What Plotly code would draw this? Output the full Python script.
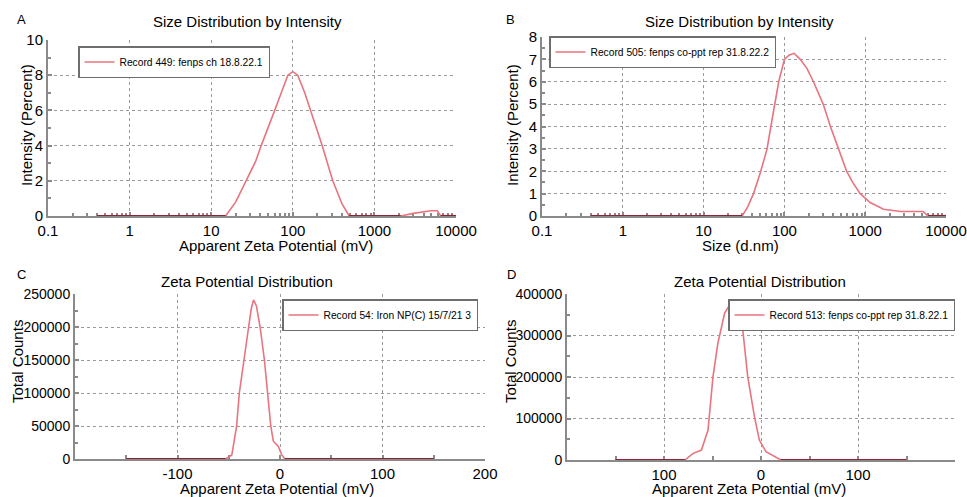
import plotly.graph_objects as go

W, H = 967, 497

# ---------------- data ----------------
A_size = [0.4, 1, 5, 10, 15, 20, 27, 35, 41, 50, 60, 75, 87, 100, 115, 140, 166, 200, 229, 270, 309, 400, 490, 700, 1000, 2100, 3000, 4900, 5900, 6500, 10000]
A_intensity = [0, 0, 0, 0, 0, 0.8, 2.0, 3.1, 4.0, 5.1, 6.0, 7.2, 8.0, 8.2, 8.0, 7.0, 6.0, 4.8, 4.0, 2.9, 2.0, 0.7, 0, 0, 0, 0, 0.15, 0.3, 0.3, 0, 0]
A_name = "Record 449: fenps ch 18.8.22.1"

B_size = [0.4, 1, 10, 20, 30, 35, 41.5, 51, 61, 68, 76, 85, 100, 115, 132, 157, 190, 229, 302, 371, 468, 589, 700, 867, 1150, 1690, 2750, 4000, 5200, 6000, 10000]
B_intensity = [0, 0, 0, 0, 0, 0.4, 1.0, 2.0, 3.0, 4.0, 5.0, 6.0, 7.0, 7.2, 7.27, 7.0, 6.6, 6.0, 5.0, 4.0, 3.0, 2.0, 1.5, 1.0, 0.6, 0.3, 0.2, 0.2, 0.2, 0, 0]
B_name = "Record 505: fenps co-ppt rep 31.8.22.2"

C_zeta = [-150, -53, -47, -42.3, -39.7, -34.8, -30.6, -28, -25.8, -23, -19.4, -15.2, -11.9, -9.0, -6.5, -1.6, 1.6, 4.8, 150]
C_counts = [0, 0, 6000, 50000, 100000, 150000, 200000, 228000, 241000, 232000, 200000, 150000, 100000, 50000, 27000, 19000, 6600, 0, 0]
C_name = "Record 54: Iron NP(C) 15/7/21 3"

D_zeta = [-150, -78.5, -70, -61.4, -54.6, -49.5, -44.4, -37.5, -31.7, -25.6, -18.8, -13.7, -6.8, -1.7, 5.1, 20.5, 150]
D_counts = [0, 0, 16000, 24000, 72000, 201000, 282000, 354000, 376000, 362000, 314000, 201000, 105000, 48000, 20000, 0, 0]
D_name = "Record 513: fenps co-ppt rep 31.8.22.1"

log_tickvals = [0.1, 1, 10, 100, 1000, 10000]
log_ticktext = ["0.1", "1", "10", "100", "1000", "10000"]
zeta_tickvals = [-100, 0, 100, 200]
C_zeta_ticktext = ["-100", "0", "100", "200"]
D_zeta_ticktext = ["100", "0", "100", "200"]

panel_titles = ["Size Distribution by Intensity", "Size Distribution by Intensity",
                "Zeta Potential Distribution", "Zeta Potential Distribution"]
panel_letters = ["A", "B", "C", "D"]
x_titles = ["Apparent Zeta Potential (mV)", "Size (d.nm)",
            "Apparent Zeta Potential (mV)", "Apparent Zeta Potential (mV)"]
y_titles = ["Intensity (Percent)", "Intensity (Percent)", "Total Counts", "Total Counts"]

# ---------------- style ----------------
FONT = "Liberation Sans, Arial, sans-serif"
PINK = "#e8747f"
DARK = "#8e2236"
AXIS = "#8a8a8a"
GRID = "#9a9a9a"

def px_x(p):
    return p / W

def px_y(p):
    return 1 - p / H

fig = go.Figure()

series = [
    (A_size, A_intensity, A_name, "x", "y", "legend"),
    (B_size, B_intensity, B_name, "x2", "y2", "legend2"),
    (C_zeta, C_counts, C_name, "x3", "y3", "legend3"),
    (D_zeta, D_counts, D_name, "x4", "y4", "legend4"),
]
for xs, ys, name, xa, ya, lg in series:
    fig.add_trace(go.Scatter(x=xs, y=ys, mode="lines", name=name,
                             line=dict(color=PINK, width=1.6),
                             xaxis=xa, yaxis=ya, legend=lg, showlegend=True))
    base = [v if v == 0 else None for v in ys]
    fig.add_trace(go.Scatter(x=xs, y=base, mode="lines", showlegend=False,
                             line=dict(color=DARK, width=2.2), connectgaps=False,
                             xaxis=xa, yaxis=ya, hoverinfo="skip"))

common_axis = dict(showline=True, linecolor=AXIS, linewidth=2, showgrid=True,
                   gridcolor=GRID, griddash="dot", gridwidth=1, zeroline=False,
                   ticks="inside", ticklen=4, tickcolor=AXIS, tickwidth=1.5,
                   automargin=False, layer="below traces")

xfont = dict(family=FONT, size=15, color="black")
yfontAB = dict(family=FONT, size=15, color="black")
yfontCD = dict(family=FONT, size=14, color="black")

def minor(d, ln=3):
    return dict(ticks="inside", ticklen=ln, tickcolor=AXIS, dtick=d, showgrid=False)

# domains (pixels)
dom = {
    1: ((48, 456), (216, 40)),
    2: ((542, 946), (216, 37)),
    3: ((75, 485), (459, 294)),
    4: ((567, 955), (460, 294)),
}

def xd(i):
    return [px_x(dom[i][0][0]), px_x(dom[i][0][1])]

def yd(i):
    return [px_y(dom[i][1][0]), px_y(dom[i][1][1])]

fig.update_layout(
    xaxis=dict(common_axis, type="log", range=[-1, 4], domain=xd(1), anchor="y",
               tickvals=log_tickvals, ticktext=log_ticktext, tickfont=xfont,
               ticklabelstandoff=0, minor=minor("D1", 3)),
    yaxis=dict(common_axis, range=[0, 10], domain=yd(1), anchor="x", dtick=2,
               tickfont=yfontAB, minor=minor(1)),
    xaxis2=dict(common_axis, type="log", range=[-1, 4], domain=xd(2), anchor="y2",
                tickvals=log_tickvals, ticktext=log_ticktext, tickfont=xfont,
                ticklabelstandoff=0, minor=minor("D1", 3)),
    yaxis2=dict(common_axis, range=[0, 8], domain=yd(2), anchor="x2", dtick=1,
                tickfont=yfontAB, minor=minor(0.5)),
    xaxis3=dict(common_axis, range=[-200, 200], domain=xd(3), anchor="y3",
                tickvals=zeta_tickvals, ticktext=C_zeta_ticktext, tickfont=xfont,
                ticklabelstandoff=0, minor=minor(50, 4)),
    yaxis3=dict(common_axis, range=[0, 250000], domain=yd(3), anchor="x3", dtick=50000,
                tickformat="d", tickfont=yfontCD, minor=minor(25000)),
    xaxis4=dict(common_axis, range=[-200, 200], domain=xd(4), anchor="y4",
                tickvals=zeta_tickvals, ticktext=D_zeta_ticktext, tickfont=xfont,
                ticklabelstandoff=0, minor=minor(50, 4)),
    yaxis4=dict(common_axis, range=[0, 400000], domain=yd(4), anchor="x4", dtick=100000,
                tickformat="d", tickfont=yfontCD, minor=minor(50000)),
)

legend_style = dict(bgcolor="white", bordercolor="#6e6e6e", borderwidth=1.5,
                    font=dict(family=FONT, size=10.25, color="black"),
                    yanchor="top", itemclick=False, itemdoubleclick=False)
fig.update_layout(
    legend=dict(legend_style, x=px_x(78), y=px_y(46), xanchor="left"),
    legend2=dict(legend_style, x=px_x(549), y=px_y(36), xanchor="left"),
    legend3=dict(legend_style, x=px_x(282), y=px_y(299), xanchor="left"),
    legend4=dict(legend_style, x=px_x(955), y=px_y(299), xanchor="right"),
)

ann = []
title_pos = [(247, 22), (739, 22), (247, 281), (760, 281)]
letter_pos = [(21, 19), (510, 19), (21, 274), (511, 274)]
xt_pos = [(276, 245), (740, 245), (277, 488), (749, 488)]
yt_pos = [(27, 125), (513, 125), (17, 362), (510, 362)]
for i in range(4):
    ann.append(dict(text=panel_titles[i], x=px_x(title_pos[i][0]), y=px_y(title_pos[i][1]),
                    xref="paper", yref="paper", showarrow=False, xanchor="center", yanchor="middle",
                    font=dict(family=FONT, size=15, color="black")))
    ann.append(dict(text=panel_letters[i], x=px_x(letter_pos[i][0]), y=px_y(letter_pos[i][1]),
                    xref="paper", yref="paper", showarrow=False, xanchor="center", yanchor="middle",
                    font=dict(family=FONT, size=13, color="black")))
    ann.append(dict(text=x_titles[i], x=px_x(xt_pos[i][0]), y=px_y(xt_pos[i][1]),
                    xref="paper", yref="paper", showarrow=False, xanchor="center", yanchor="middle",
                    font=dict(family=FONT, size=15, color="black")))
    ann.append(dict(text=y_titles[i], x=px_x(yt_pos[i][0]), y=px_y(yt_pos[i][1]),
                    xref="paper", yref="paper", showarrow=False, xanchor="center", yanchor="middle",
                    textangle=-90, font=dict(family=FONT, size=15, color="black")))

fig.update_layout(
    width=W, height=H, margin=dict(l=0, r=0, t=0, b=0, autoexpand=False),
    paper_bgcolor="white", plot_bgcolor="white",
    annotations=ann, font=dict(family=FONT, size=15, color="black"),
)

fig.write_html("out.html", config={"displayModeBar": False},
               post_script="document.body.style.margin='0px';document.body.style.overflow='hidden';")
